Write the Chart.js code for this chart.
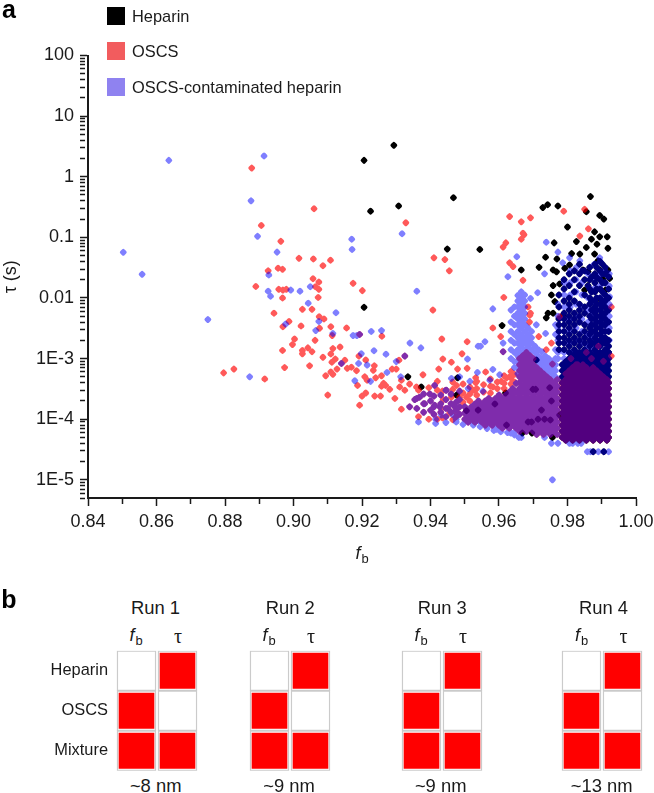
<!DOCTYPE html>
<html>
<head>
<meta charset="utf-8">
<script src="https://cdn.jsdelivr.net/npm/chart.js@4"></script>
<style>
  html, body { margin: 0; padding: 0; background: #fff; }
  #page { position: relative; width: 654px; height: 793px; overflow: hidden; font-family: "Liberation Sans", Arial, sans-serif; color: #1a1a1a; }
  canvas { position: absolute; }
  .txt { position: absolute; transform: translate(-50%, -50%); white-space: nowrap; line-height: 1; }
  .txt sub { font-size: 0.72em; vertical-align: -0.3em; line-height: 0; margin-left: 1px; }
  .swatch { position: absolute; width: 18px; height: 18px; }
  .legendText { position: absolute; font-size: 16.4px; line-height: 1; white-space: nowrap; }
</style>
</head>
<body>
<div id="page">
  <canvas id="layerHeparin" width="654" height="580" style="left:0;top:0"></canvas>
  <canvas id="layerOscs" width="654" height="580" style="left:0;top:0;opacity:0.65"></canvas>
  <canvas id="layerMix" width="654" height="580" style="left:0;top:0;opacity:0.5"></canvas>
</div>
<script>
// values (f_b, tau in s)
const heparinFb = [0.9206,0.9293,0.9467,0.9307,0.9225,0.9449,0.9206,0.9334,0.9373,0.9479,0.9476,
  0.9544,0.9867,0.9728,0.9742,0.9772,0.9855,0.9894,0.9906,0.98,0.9879,0.9894,0.9916,0.9761,0.9826,0.987,
  0.9886,0.9855,0.9918,0.9812,0.9836,0.9879,0.9736,0.9769,0.9665,0.9717,0.9806,0.9758,0.9768,0.9792,
  0.9845,0.986,0.9889,0.9894,0.9918,0.9923,0.9758,0.9777,0.986,0.9884,0.9903,0.9753,0.9763,0.985,
  0.9884,0.9911,0.9884,0.9743,0.9738,0.9758,0.9787,
  0.9724,0.9685,0.9695,0.9714,0.9733,0.975,0.9753,0.9707,0.9748,0.9777,0.9696,0.9756,0.9668,0.9622,
  0.9505,0.9539,0.9588,0.9619,0.9699,0.9609,0.9709,0.9875,0.9906];
const heparinTau = [1.86,3.3,0.45,0.33,0.27,0.064,0.007,5e-4,3.4e-4,4.8e-4,2.5e-4,
  0.063,0.47,0.31,0.345,0.33,0.265,0.23,0.2,0.148,0.123,0.102,0.102,0.081,0.085,0.093,
  0.077,0.068,0.066,0.054,0.053,0.053,0.047,0.044,0.029,0.032,0.035,0.029,0.027,0.031,
  0.029,0.027,0.041,0.029,0.029,0.021,0.016,0.017,0.016,0.022,0.0204,0.0112,0.0087,0.0135,
  0.0135,0.0135,0.0093,0.0056,0.0047,0.0056,0.0052,
  1.41e-4,9e-5,9e-5,1e-4,1e-4,9.7e-5,2e-4,3.1e-4,3.3e-4,1.17e-4,5.9e-5,5e-5,5.9e-5,8e-5,
  1.38e-4,1.41e-4,1.78e-4,2.7e-4,3.1e-4,0.0035,9.5e-4,2.9e-5,2.9e-5];

const oscsFb = [0.8878,0.906,0.9328,0.8906,0.8963,0.9016,0.9058,0.9108,0.9086,0.8955,0.8968,0.8926,
  0.941,0.9442,0.9455,0.889,0.9057,0.9074,0.9064,0.9074,0.8957,0.8969,0.8979,0.8968,0.9072,0.9174,0.9201,
  0.9407,0.9026,0.9054,0.8943,0.9075,0.9089,0.8987,0.8969,0.9022,0.9076,0.9109,0.9155,0.9258,0.9113,
  0.9003,0.8997,0.9063,0.9042,0.9026,0.9026,0.9054,0.8968,0.9115,0.9136,0.9109,0.9086,0.9122,0.9112,
  0.915,0.9047,0.8974,0.9127,0.9109,0.9094,0.9115,0.9157,0.9169,0.9184,0.9191,0.9211,0.9236,0.9233,
  0.9208,0.9215,0.9187,0.9211,0.92,0.9237,0.9254,0.9193,0.91,0.8796,0.8826,0.8916,0.924,0.9257,0.9263,
  0.9257,0.9269,0.9281,0.9296,0.9288,0.93,0.9315,0.9308,0.931,0.9325,0.9339,0.9315,0.9378,0.9433,
  0.9507,0.9436,0.9461,0.9492,0.9507,0.9424,0.9479,0.914,0.9325,0.9193,
  0.9631,0.9665,0.9692,0.967,0.9673,0.9665,0.962,0.9612,0.9789,0.985,0.9861,0.9836,0.9631,0.9641,
  0.9614,0.967,0.9582,0.9605,0.9716,0.9612,0.9685,0.9692,0.9689,0.969,0.9561,0.9532,0.9532,0.9524,
  0.9582,0.9631,0.9607,0.9622,0.9665,0.9359,0.9476,0.9461,0.9485,0.9505,0.9529,0.9437,0.9456,0.9432,0.9476,0.9639,
  0.983,0.987,0.9905,0.9855,0.981,0.989,0.9928,0.9928,0.9738,0.9756,0.9777,0.9753,0.9772];
const oscsTau = [1.39,0.297,0.174,0.157,0.086,0.045,0.044,0.042,0.034,0.031,0.0297,0.028,
  0.046,0.043,0.028,0.0155,0.0208,0.0183,0.0153,0.0139,0.0139,0.0135,0.0139,0.01,0.0102,0.0174,0.0132,
  0.0063,0.0065,0.0065,0.0056,0.0049,0.0045,0.0041,0.00335,0.00345,0.00316,0.00335,0.0032,0.00234,0.0024,
  0.0021,0.0017,0.002,0.0015,0.00136,0.0012,0.0013,0.00136,0.00146,0.00155,0.00119,0.00105,0.00098,0.00087,
  0.00094,0.00076,0.00071,0.00067,0.0006,0.00052,0.00055,0.00069,0.00072,0.00063,0.0011,0.00095,0.00076,0.00064,
  5e-4,4.4e-4,3.6e-4,2.7e-4,2.4e-4,2.4e-4,2.4e-4,1.7e-4,2.5e-4,5.8e-4,6.7e-4,4.6e-4,4.8e-4,5.2e-4,3.9e-4,
  3.5e-4,3.6e-4,3.1e-4,2.2e-4,6.7e-4,6.7e-4,4.4e-4,9.4e-4,3.4e-4,3e-4,3.8e-4,1.46e-4,5.4e-4,0.0021,
  0.0019,9.8e-4,8.7e-4,0.0012,6.9e-4,6.7e-4,6.7e-4,8.3e-4,0.0011,0.0025,
  0.22,0.18,0.21,0.117,0.11,0.093,0.081,0.069,0.27,0.29,0.138,0.105,0.038,0.033,
  0.0102,0.0195,0.0032,0.0023,0.0023,0.0013,0.0071,0.0056,0.004,0.0052,6e-4,4.8e-4,4e-4,3e-4,
  3.4e-4,5e-4,4.2e-4,4.8e-4,3.2e-4,3.4e-4,3.6e-4,2.3e-4,2.3e-4,2.3e-4,3e-4,2.1e-4,1.26e-4,1.5e-4,1.26e-4,2.8e-4,
  7.9e-4,0.001,9e-4,0.00126,0.001,0.0016,0.0071,0.0011,0.0014,8.1e-4,0.0049,0.0018,3.4e-4];

const mixFb = [0.8636,0.8914,0.8876,0.8503,0.8558,0.8895,0.8952,0.917,0.9171,0.9317,0.8928,0.8926,0.8933,
  0.8992,0.9019,0.9049,0.9043,0.936,0.875,0.8872,0.9124,0.8977,0.9074,0.9065,0.9115,0.9174,0.9185,0.9227,
  0.9257,0.934,0.9372,0.9235,0.927,0.9198,0.9215,0.919,0.93,0.9313,0.9179,0.9225,0.9273,0.9508,0.9539,
  0.914,0.9325,0.9193,0.9612,0.9537,0.9582,0.9602,0.9515,0.9573,0.9546,0.9559,0.9612,0.9582,0.9738,
  0.9772,0.9733,0.9713,0.9692,0.9709,0.9736,0.9753,0.9772,0.9733,0.9658,0.9634,0.9592,0.9806,0.9815,
  0.983,0.984,0.9858,0.9867,0.9875,0.989,0.9906,0.992,0.9756,0.9593,0.9635,0.9652,0.9626,
  0.9461,0.9485,0.951,0.9553,0.9432,0.9466,0.9505,0.9553,0.9514,0.9836,0.9786,0.9806,0.9894,0.9923];
const mixTau = [1.86,2.2,0.4,0.0565,0.0245,0.104,0.057,0.093,0.063,0.115,0.024,0.0129,0.0107,
  0.0135,0.0129,0.0153,0.0082,0.0129,0.0044,5e-4,0.0057,0.0037,0.0041,0.0029,0.0026,0.0024,0.0024,0.0028,
  0.0029,0.0018,0.0015,0.00135,0.00118,0.0012,7.8e-4,8.3e-4,8.9e-4,5e-4,4.3e-4,4.2e-4,5.9e-4,9.8e-4,0.0016,
  8.3e-4,0.0011,0.0025,0.0013,5.9e-4,6.6e-4,5.4e-4,4.2e-4,4.4e-4,0.0016,0.0019,0.0018,0.0066,0.083,
  0.057,0.025,0.0122,0.0098,0.0036,0.0026,4e-5,4e-5,5e-5,5e-5,6e-5,7e-5,4e-5,4e-5,
  4e-5,4e-5,2.9e-5,2.9e-5,2.9e-5,2.9e-5,2.9e-5,2.9e-5,1e-5,6.8e-5,5.9e-5,0.048,0.0224,
  4.7e-4,5e-4,3.2e-4,2.9e-4,1.17e-4,1.17e-4,1e-4,8.5e-5,9.6e-5,0.041,0.038,0.046,0.046,0.0105];

// the solid blobs cannot be read point by point, these columns only estimate what they cover
// columns seen in all three series
const coreColumns = [
  [0.9785,[5e-5,6.3e-5,7.9e-5,1e-4,1.26e-4,1.6e-4,2e-4,2.5e-4,3.2e-4,4e-4]],
  [0.9795,[4.5e-5,5.6e-5,7.1e-5,8.9e-5,1.12e-4,1.41e-4,1.78e-4,2.2e-4,2.8e-4,3.5e-4,4.5e-4,5.6e-4]],
  [0.9805,[5e-5,6.3e-5,7.9e-5,1e-4,1.26e-4,1.6e-4,2e-4,2.5e-4,3.2e-4,4e-4,5e-4,6.3e-4]],
  [0.9815,[4.5e-5,5.6e-5,7.1e-5,8.9e-5,1.12e-4,1.41e-4,1.78e-4,2.2e-4,2.8e-4,3.5e-4,4.5e-4,5.6e-4,7.1e-4]],
  [0.9825,[5e-5,6.3e-5,7.9e-5,1e-4,1.26e-4,1.6e-4,2e-4,2.5e-4,3.2e-4,4e-4,5e-4,6.3e-4,7.9e-4]],
  [0.9835,[4.5e-5,5.6e-5,7.1e-5,8.9e-5,1.12e-4,1.41e-4,1.78e-4,2.2e-4,2.8e-4,3.5e-4,4.5e-4,5.6e-4,7.1e-4]],
  [0.9845,[5e-5,6.3e-5,7.9e-5,1e-4,1.26e-4,1.6e-4,2e-4,2.5e-4,3.2e-4,4e-4,5e-4,6.3e-4,7.9e-4]],
  [0.9855,[4.5e-5,5.6e-5,7.1e-5,8.9e-5,1.12e-4,1.41e-4,1.78e-4,2.2e-4,2.8e-4,3.5e-4,4.5e-4,5.6e-4,7.1e-4]],
  [0.9865,[5e-5,6.3e-5,7.9e-5,1e-4,1.26e-4,1.6e-4,2e-4,2.5e-4,3.2e-4,4e-4,5e-4,6.3e-4]],
  [0.9875,[4.5e-5,5.6e-5,7.1e-5,8.9e-5,1.12e-4,1.41e-4,1.78e-4,2.2e-4,2.8e-4,3.5e-4,4.5e-4,5.6e-4,7.1e-4]],
  [0.9885,[5e-5,6.3e-5,7.9e-5,1e-4,1.26e-4,1.6e-4,2e-4,2.5e-4,3.2e-4,4e-4,5e-4,6.3e-4]],
  [0.9895,[4.5e-5,5.6e-5,7.1e-5,8.9e-5,1.12e-4,1.41e-4,1.78e-4,2.2e-4,2.8e-4,3.5e-4,4.5e-4,5.6e-4]],
  [0.9905,[5e-5,6.3e-5,7.9e-5,1e-4,1.26e-4,1.6e-4,2e-4,2.5e-4,3.2e-4,4e-4,5e-4]],
  [0.9915,[4.5e-5,5.6e-5,7.1e-5,8.9e-5,1.12e-4,1.41e-4,1.78e-4,2.2e-4,2.8e-4,3.5e-4,4.5e-4]],
  [0.992,[5e-5,6.3e-5,7.9e-5,1e-4,1.26e-4,1.6e-4,2e-4,2.5e-4,3.2e-4,4e-4]]
];
// columns seen in heparin and the mixture (navy area)
const navyColumns = [
  [0.9785,[7.9e-4,6.3e-4,5e-4]],[0.9795,[8.9e-4,7.1e-4]],[0.9805,[0.001,7.9e-4]],
  [0.9815,[0.00112,8.9e-4]],[0.9825,[0.00126,0.001]],
  [0.9835,[0.00112,8.9e-4]],[0.9845,[0.00126,0.001]],
  [0.9855,[0.00112,8.9e-4]],[0.9865,[0.00126,0.001,7.9e-4]],
  [0.9875,[0.00112,8.9e-4]],[0.9885,[0.00126,0.001,7.9e-4]],
  [0.9895,[0.00112,8.9e-4,7.1e-4]],[0.9905,[0.00126,0.001,7.9e-4,6.3e-4]],
  [0.9915,[0.00112,8.9e-4,7.1e-4,5.6e-4]],[0.992,[0.00126,0.001,7.9e-4,6.3e-4,5e-4]],
  [0.9775,[0.0112,0.0071,0.0045,0.0036,0.0028,0.0022,0.0018,0.0014]],
  [0.979,[0.02,0.0141,0.0089,0.0056,0.0045,0.0036,0.0028,0.0022,0.0018,0.0014]],
  [0.9805,[0.025,0.016,0.01,0.0079,0.0063,0.005,0.004,0.0032,0.0025,0.002,0.0016,0.00126]],
  [0.982,[0.028,0.02,0.0126,0.0089,0.0056,0.0045,0.0036,0.0028,0.0022,0.0018,0.0014]],
  [0.9835,[0.036,0.025,0.016,0.0079,0.0063,0.005,0.004,0.0025,0.002,0.0016,0.00126]],
  [0.985,[0.028,0.02,0.0112,0.0071,0.0056,0.0036,0.0028,0.0022,0.0018,0.0014]],
  [0.9865,[0.032,0.02,0.0141,0.01,0.0079,0.005,0.0032,0.0025,0.002,0.0016,0.00126]],
  [0.987,[0.022,0.0126,0.0089,0.0063,0.0045,0.0036,0.0028,0.0018]],
  [0.988,[0.036,0.025,0.0178,0.0126,0.0089,0.0071,0.0056,0.0045,0.0036,0.0028,0.0022,0.0018,0.0014]],
  [0.9885,[0.032,0.022,0.0141,0.01,0.0079,0.0063,0.005,0.004,0.0032,0.0025,0.002,0.0016]],
  [0.9895,[0.04,0.028,0.02,0.0141,0.01,0.0079,0.0063,0.005,0.004,0.0032,0.0025,0.002,0.0016,0.00126]],
  [0.9902,[0.036,0.025,0.0178,0.0126,0.0089,0.0071,0.0056,0.0045,0.0036,0.0028,0.0022,0.0018]],
  [0.991,[0.032,0.025,0.0178,0.0112,0.0089,0.0071,0.0056,0.0045,0.0036,0.0028,0.0022,0.0018,0.0014]],
  [0.992,[0.0224,0.0141,0.01,0.0063,0.004,0.0028,0.002,0.0016,0.00126]]
];
// columns seen in OSCS and the mixture (purple band)
const bandColumns = [
  [0.936,[1.5e-4,2.2e-4]],[0.938,[1.3e-4,1.8e-4,2.6e-4]],[0.94,[1.4e-4,2e-4]],[0.941,[1.2e-4,1.6e-4,2.4e-4]],
  [0.943,[1.3e-4,1.8e-4,2.5e-4]],[0.9445,[1.1e-4,1.5e-4,2.1e-4,3e-4]],[0.946,[1.3e-4,1.8e-4,2.6e-4]],
  [0.9475,[1.1e-4,1.4e-4,1.9e-4]],[0.9485,[1.2e-4,1.6e-4,2.1e-4,2.9e-4]],
  [0.9412,[1.7e-4]],[0.9427,[1.6e-4]],[0.9446,[3e-4]],[0.9451,[1.5e-4]],[0.9471,[1.6e-4]],[0.9398,[2.6e-4]],
  [0.9383,[1.8e-4]],[0.9368,[2.3e-4]],[0.9339,[1.6e-4]],[0.9354,[2.1e-4]],[0.9412,[3.6e-4]],
  [0.95,[1e-4,1.26e-4,1.6e-4]],[0.951,[8.9e-5,1.12e-4,1.41e-4]],[0.952,[1e-4,1.26e-4,1.6e-4]],
  [0.953,[8.9e-5,1.12e-4,1.41e-4,1.78e-4]],[0.954,[1e-4,1.26e-4,1.6e-4,2e-4]],
  [0.955,[8.9e-5,1.12e-4,1.41e-4,1.78e-4]],[0.956,[7.9e-5,1e-4,1.26e-4,1.6e-4,2e-4]],
  [0.957,[8.9e-5,1.12e-4,1.41e-4,1.78e-4,2.2e-4]],[0.958,[7.9e-5,1e-4,1.26e-4,1.6e-4,2e-4]],
  [0.959,[8.9e-5,1.12e-4,1.41e-4,1.78e-4,2.2e-4]],[0.96,[7.9e-5,1e-4,1.26e-4,1.6e-4,2e-4,2.5e-4]],
  [0.961,[7.1e-5,8.9e-5,1.12e-4,1.41e-4,1.78e-4,2.2e-4]],[0.962,[7.9e-5,1e-4,1.26e-4,1.6e-4,2e-4,2.5e-4]],
  [0.963,[7.1e-5,8.9e-5,1.12e-4,1.41e-4,1.78e-4,2.2e-4,2.8e-4]],
  [0.964,[7.9e-5,1e-4,1.26e-4,1.6e-4,2e-4,2.5e-4,3.2e-4]],
  [0.965,[7.1e-5,8.9e-5,1.12e-4,1.41e-4,1.78e-4,2.2e-4,2.8e-4,3.9e-4]],
  [0.966,[6.3e-5,7.9e-5,1e-4,1.26e-4,1.6e-4,2e-4,2.5e-4,3.2e-4,4e-4,5e-4,6.3e-4,7.9e-4,0.001]],
  [0.967,[7.1e-5,8.9e-5,1.12e-4,1.41e-4,1.78e-4,2.2e-4,2.8e-4,3.5e-4,4.5e-4,5.6e-4,7.1e-4,8.9e-4,0.00112]],
  [0.968,[6.3e-5,7.9e-5,1e-4,1.26e-4,1.6e-4,2e-4,2.5e-4,3.2e-4,4e-4,5e-4,6.3e-4,7.9e-4,0.001,0.00126]],
  [0.969,[7.1e-5,8.9e-5,1.12e-4,1.41e-4,1.78e-4,2.2e-4,2.8e-4,3.5e-4,4.5e-4,5.6e-4,7.1e-4,8.9e-4,0.00112]],
  [0.97,[6.3e-5,7.9e-5,1e-4,1.26e-4,1.6e-4,2e-4,2.5e-4,3.2e-4,4e-4,5e-4,6.3e-4,7.9e-4,0.001]],
  [0.971,[5.6e-5,7.1e-5,8.9e-5,1.12e-4,1.41e-4,1.78e-4,2.2e-4,2.8e-4,3.5e-4,4.5e-4,5.6e-4,7.1e-4]],
  [0.972,[6.3e-5,7.9e-5,1e-4,1.26e-4,1.6e-4,2e-4,2.5e-4,3.2e-4,4e-4,5e-4,6.3e-4]],
  [0.973,[5.6e-5,7.1e-5,8.9e-5,1.12e-4,1.41e-4,1.78e-4,2.2e-4,2.8e-4,3.5e-4,4.5e-4,5.6e-4]],
  [0.974,[6.3e-5,7.9e-5,1e-4,1.26e-4,1.6e-4,2e-4,2.5e-4,3.2e-4,4e-4,5e-4]],
  [0.975,[5.6e-5,7.1e-5,8.9e-5,1.12e-4,1.41e-4,1.78e-4,2.2e-4,2.8e-4,3.5e-4,4.5e-4]],
  [0.976,[6.3e-5,7.9e-5,1e-4,1.26e-4,1.6e-4,2e-4,2.5e-4,3.2e-4,4e-4]],
  [0.977,[5.6e-5,7.1e-5,8.9e-5,1.12e-4,1.41e-4,1.78e-4,2.2e-4,2.8e-4,3.5e-4,4.5e-4]]
];
// red points along the top of the band
const oscsRimColumns = [
  [0.9365,[1.1e-4,3e-4]],[0.9395,[1e-4,3.3e-4]],[0.942,[1e-4,3e-4,4.2e-4]],[0.9435,[2.9e-4,1.05e-4]],
  [0.9465,[9.8e-5,3.1e-4,4.1e-4]],[0.9495,[1.9e-4,2.7e-4,3.8e-4]],[0.9515,[2e-4,2.6e-4,3.4e-4]],
  [0.9535,[2.5e-4,3.2e-4,4.2e-4]],[0.9555,[2.8e-4,3.7e-4]],[0.9575,[2.7e-4,3.5e-4,4.6e-4]],
  [0.9595,[3.2e-4,4.1e-4]],[0.9615,[3.2e-4,3.9e-4,5.2e-4]],[0.9635,[3.8e-4,4.8e-4,6.1e-4]],[0.9645,[4.1e-4,5.5e-4]]
];
// columns seen in the mixture only (pale blue spire, rim under the band, pale part behind the navy)
const spireColumns = [
  [0.9635,[0.0063,0.004,0.0028,0.002,0.0014,0.001]],
  [0.9645,[0.0071,0.005,0.0036,0.0025,0.0018,0.00126,8.9e-4,7.1e-4]],
  [0.9655,[0.011,0.0089,0.0071,0.0056,0.0045,0.0036,0.0028,0.0022,0.0018,0.0014,0.0011,8.9e-4,7.1e-4,5.6e-4]],
  [0.9665,[0.0126,0.01,0.0079,0.0063,0.005,0.004,0.0032,0.0025,0.002,0.0016,0.00126]],
  [0.9675,[0.0112,0.0089,0.0071,0.0056,0.0045,0.0036,0.0028,0.0022,0.0018,0.0014]],
  [0.9685,[0.0032,0.0025,0.002,0.0016,0.00126]],
  [0.9695,[0.0028,0.0022,0.0018,0.0014]],
  [0.9705,[0.0016,0.00126,0.001]],
  [0.9715,[0.0014,0.0011,8.9e-4,7.1e-4]],
  [0.9725,[0.0013,0.001,7.9e-4,6.3e-4]],
  [0.9735,[0.0011,8.9e-4,7.1e-4,5.6e-4]],
  [0.9745,[0.001,7.9e-4,6.3e-4,5e-4]],
  [0.9755,[8.9e-4,7.1e-4,5.6e-4]],
  [0.9765,[0.0036,0.0025,0.0014,0.001,7.9e-4,6.3e-4,5e-4]],
  [0.9365,[9e-5]],[0.9415,[8.5e-5,1e-4]],[0.9445,[8.8e-5]],[0.9475,[9e-5,1e-4]],[0.9495,[8.2e-5]],
  [0.9525,[8e-5,8.8e-5]],[0.9545,[7.5e-5,9e-5]],[0.9565,[7e-5,8e-5]],[0.9585,[6.5e-5]],[0.9605,[6.2e-5,7e-5]],
  [0.9625,[6e-5]],[0.9645,[5.5e-5,6e-5]],[0.9665,[5e-5]],
  [0.9772,[0.0079,0.005,0.0032,0.002,0.00126,0.001]],
  [0.979,[0.0178,0.0112,0.0071,0.0045,0.0028,0.0018,0.00126,0.001]],
  [0.9808,[0.0282,0.0178,0.0112,0.0071,0.0045,0.0028,0.0018,0.00126,0.001]],
  [0.9825,[0.0316,0.02,0.0126,0.0079,0.005,0.0032,0.002,0.00126]],
  [0.9842,[0.0282,0.0178,0.0112,0.0071,0.0045,0.0028,0.0018]],
  [0.986,[0.025,0.0158,0.01,0.0063,0.004,0.0025,0.0016]],
  [0.9877,[0.0355,0.0224,0.0141,0.0089,0.0056,0.0036,0.0022,0.0014]],
  [0.9895,[0.0398,0.025,0.0158,0.01,0.0063,0.004,0.0025,0.0016]],
  [0.991,[0.0282,0.0178,0.0112,0.0071,0.0045,0.0028,0.0018]],
  [0.9922,[0.025,0.0158,0.0079,0.005,0.0032,0.002]]
];

const seriesNames = ['Heparin', 'OSCS', 'OSCS-contaminated heparin'];
const legendColors = ['#000000', '#f25c5e', '#8f82f0'];
const xTicks = [0.84, 0.85, 0.86, 0.87, 0.88, 0.89, 0.90, 0.91, 0.92, 0.93, 0.94, 0.95, 0.96, 0.97, 0.98, 0.99, 1.00];
const yDecades = [100, 10, 1, 0.1, 0.01, 1e-3, 1e-4, 1e-5];
const yDecadeLabels = ['100', '10', '1', '0.1', '0.01', '1E-3', '1E-4', '1E-5'];
const yMinorTicks = [90,80,70,60,50,40,30,20,9,8,7,6,5,4,3,2,0.9,0.8,0.7,0.6,0.5,0.4,0.3,0.2,
  0.09,0.08,0.07,0.06,0.05,0.04,0.03,0.02,0.009,0.008,0.007,0.006,0.005,0.004,0.003,0.002,
  9e-4,8e-4,7e-4,6e-4,5e-4,4e-4,3e-4,2e-4,9e-5,8e-5,7e-5,6e-5,5e-5,4e-5,3e-5,2e-5,9e-6,8e-6,7e-6,6e-6,5e-6];

const runNames = ['Run 1', 'Run 2', 'Run 3', 'Run 4'];
const runSizes = ['~8 nm', '~9 nm', '~9 nm', '~13 nm'];
const rowLabels = ['Heparin', 'OSCS', 'Mixture'];
const columnLabels = ['fb', 'tau'];
const fbCells = [0, 1, 1];
const tauCells = [1, 0, 1];

const page = document.getElementById('page');
const inkColor = '#1a1a1a';

function addText(html, x, y, size, extra) {
  const el = document.createElement('div');
  el.className = 'txt';
  el.innerHTML = html;
  el.style.left = x + 'px';
  el.style.top = y + 'px';
  el.style.fontSize = size + 'px';
  if (extra) el.style.cssText += extra;
  page.appendChild(el);
}

function points(fb, tau, columnSets) {
  const pts = fb.map((f, i) => ({ x: f, y: tau[i] }));
  columnSets.forEach(cols => cols.forEach(c => c[1].forEach(t => pts.push({ x: c[0], y: t }))));
  return pts;
}

function isMajorX(value) {
  return Math.round(value * 100) % 2 === 0;
}

function scatterLayer(id, name, data, color, showAxes) {
  const ink = showAxes ? inkColor : 'transparent';
  return new Chart(document.getElementById(id), {
    type: 'scatter',
    data: {
      datasets: [{
        label: name,
        data: data,
        backgroundColor: color,
        borderWidth: 0,
        pointStyle: 'rectRounded',
        rotation: 45,
        pointRadius: 3.4
      }]
    },
    options: {
      responsive: false,
      animation: false,
      events: [],
      layout: { padding: { top: 55.5, right: 18, left: 0, bottom: 0 } },
      plugins: { legend: { display: false }, tooltip: { enabled: false } },
      scales: {
        x: {
          type: 'linear',
          min: 0.84,
          max: 1.0,
          afterFit: s => { s.height = 82; s.paddingLeft = 0; s.paddingRight = 0; },
          afterBuildTicks: s => { s.ticks = xTicks.map(v => ({ value: v })); },
          grid: {
            drawOnChartArea: false,
            tickLength: 8,
            tickWidth: 1.5,
            tickColor: ink,
            tickBorderDash: c => isMajorX(c.tick.value) ? [] : [5, 100]
          },
          border: { color: ink, width: 2 },
          ticks: {
            color: ink,
            font: { family: 'Liberation Sans', size: 18 },
            padding: 5,
            maxRotation: 0,
            autoSkip: false,
            callback: v => isMajorX(v) ? v.toFixed(2) : ''
          }
        },
        y: {
          type: 'logarithmic',
          min: 5e-6,
          max: 100,
          afterFit: s => { s.width = 88; s.paddingTop = 0; s.paddingBottom = 0; },
          afterBuildTicks: s => {
            s.ticks = yDecades.concat(yMinorTicks).map(v => ({ value: v }));
          },
          grid: {
            drawOnChartArea: false,
            tickLength: 8,
            tickWidth: 1.5,
            tickColor: ink,
            tickBorderDash: c => yDecades.includes(c.tick.value) ? [] : [5, 100]
          },
          border: { color: ink, width: 2 },
          title: {
            display: true,
            text: 'τ (s)',
            color: ink,
            font: { family: 'Liberation Sans', size: 18 },
            padding: { top: 0, bottom: 0 }
          },
          ticks: {
            color: ink,
            font: { family: 'Liberation Sans', size: 18 },
            padding: 6,
            autoSkip: false,
            callback: v => {
              const i = yDecades.indexOf(v);
              return i >= 0 ? yDecadeLabels[i] : '';
            }
          }
        }
      }
    }
  });
}

scatterLayer('layerHeparin', seriesNames[0], points(heparinFb, heparinTau, [coreColumns, navyColumns]), '#000000', true);
scatterLayer('layerOscs', seriesNames[1], points(oscsFb, oscsTau, [coreColumns, bandColumns, oscsRimColumns]), '#ff0000', false);
scatterLayer('layerMix', seriesNames[2], points(mixFb, mixTau, [coreColumns, navyColumns, bandColumns, spireColumns]), '#0000ff', false);

// legend
seriesNames.forEach((name, i) => {
  const top = [6.5, 42, 78][i];
  const sw = document.createElement('div');
  sw.className = 'swatch';
  sw.style.left = '107px';
  sw.style.top = top + 'px';
  sw.style.background = legendColors[i];
  page.appendChild(sw);
  const t = document.createElement('div');
  t.className = 'legendText';
  t.textContent = name;
  t.style.left = '132px';
  t.style.top = (top + 1) + 'px';
  page.appendChild(t);
});

addText('a', 9, 9, 25, 'font-weight:bold;color:#000');
addText('b', 9, 599, 25, 'font-weight:bold;color:#000');
addText('<i>f</i><sub>b</sub>', 362, 553, 18);

// panel b, one small chart per run
const runLefts = [115.5, 248.5, 400.5, 561];
const titleCenters = [155.5, 290.3, 442.3, 603.5];
const sizeCenters = [155.7, 289, 440.7, 601.7];
const yLabelWidth = 85;

runNames.forEach((name, i) => {
  const left = runLefts[i];
  const cv = document.createElement('canvas');
  cv.width = yLabelWidth + 84;
  cv.height = 124;
  cv.style.left = (left - yLabelWidth) + 'px';
  cv.style.top = '649px';
  page.appendChild(cv);

  const outline = [];
  const fills = [];
  rowLabels.forEach((r, row) => {
    outline.push({ x: columnLabels[0], y: [row, row + 1] }, { x: columnLabels[1], y: [row, row + 1] });
    if (fbCells[row]) fills.push({ x: columnLabels[0], y: [row + 0.06, row + 0.94] });
    if (tauCells[row]) fills.push({ x: columnLabels[1], y: [row + 0.06, row + 0.94] });
  });

  new Chart(cv, {
    type: 'bar',
    data: {
      labels: columnLabels,
      datasets: [
        { data: outline, backgroundColor: '#ffffff', borderColor: '#cbcbcb', borderWidth: 1.4, borderSkipped: false, barThickness: 39, grouped: false, order: 2 },
        { data: fills, backgroundColor: '#ff0000', borderWidth: 0, barThickness: 35, grouped: false, order: 1 }
      ]
    },
    options: {
      responsive: false,
      animation: false,
      events: [],
      layout: { padding: { top: 1.7, bottom: 2.3, left: 0, right: 2 } },
      plugins: { legend: { display: false }, tooltip: { enabled: false } },
      scales: {
        x: { display: false },
        y: {
          type: 'linear',
          reverse: true,
          min: 0,
          max: 3,
          afterFit: s => { s.width = yLabelWidth; s.paddingTop = 0; s.paddingBottom = 0; },
          afterBuildTicks: s => { s.ticks = rowLabels.map((r, row) => ({ value: row + 0.5 })); },
          grid: { display: false, drawTicks: false },
          border: { display: false },
          ticks: {
            display: i === 0,
            color: inkColor,
            font: { family: 'Liberation Sans', size: 16.4 },
            padding: 8,
            autoSkip: false,
            callback: v => rowLabels[Math.floor(v)]
          }
        }
      }
    }
  });

  addText(name, titleCenters[i], 607.5, 18.4);
  addText('<i>f</i><sub>b</sub>', left + 20.5, 635, 18);
  addText('τ', left + 62.5, 636, 20, 'font-family:\'Liberation Serif\',serif');
  addText(runSizes[i], sizeCenters[i], 786, 18.4);
});
</script>
</body>
</html>
